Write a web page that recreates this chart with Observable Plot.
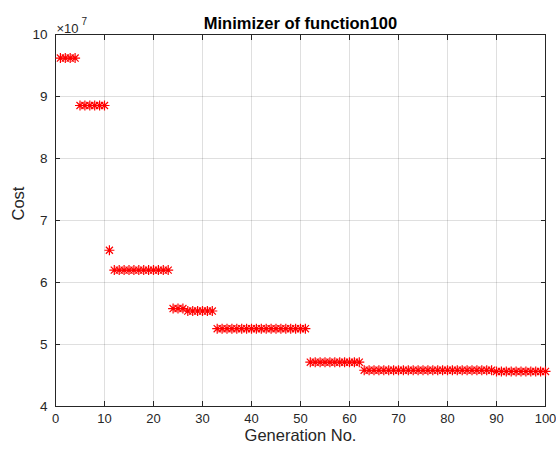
<!DOCTYPE html>
<html><head><meta charset="utf-8">
<script src="https://cdn.jsdelivr.net/npm/d3@7"></script>
<script src="https://cdn.jsdelivr.net/npm/@observablehq/plot@0.6"></script>
<style>
html,body{margin:0;padding:0;background:#fff;}
#chart{width:556px;height:450px;}
</style></head><body><div id="chart"></div>
<script>
// ---- data ----
const generation = [
  1,2,3,4,5,6,7,8,9,10,
  11,12,13,14,15,16,17,18,19,20,
  21,22,23,24,25,26,27,28,29,30,
  31,32,33,34,35,36,37,38,39,40,
  41,42,43,44,45,46,47,48,49,50,
  51,52,53,54,55,56,57,58,59,60,
  61,62,63,64,65,66,67,68,69,70,
  71,72,73,74,75,76,77,78,79,80,
  81,82,83,84,85,86,87,88,89,90,
  91,92,93,94,95,96,97,98,99,100
];
const cost = [
  9.62e7,9.62e7,9.62e7,9.62e7,8.855e7,8.855e7,8.855e7,8.855e7,8.855e7,8.855e7,
  6.52e7,6.20e7,6.20e7,6.20e7,6.20e7,6.20e7,6.20e7,6.20e7,6.20e7,6.20e7,
  6.20e7,6.20e7,6.20e7,5.58e7,5.58e7,5.58e7,5.54e7,5.54e7,5.54e7,5.54e7,
  5.54e7,5.54e7,5.255e7,5.255e7,5.255e7,5.255e7,5.255e7,5.255e7,5.255e7,5.255e7,
  5.255e7,5.255e7,5.255e7,5.255e7,5.255e7,5.255e7,5.255e7,5.255e7,5.255e7,5.255e7,
  5.255e7,4.715e7,4.715e7,4.715e7,4.715e7,4.715e7,4.715e7,4.715e7,4.715e7,4.715e7,
  4.715e7,4.715e7,4.585e7,4.585e7,4.585e7,4.585e7,4.585e7,4.585e7,4.585e7,4.585e7,
  4.585e7,4.585e7,4.585e7,4.585e7,4.585e7,4.585e7,4.585e7,4.585e7,4.585e7,4.585e7,
  4.585e7,4.585e7,4.585e7,4.585e7,4.585e7,4.585e7,4.585e7,4.585e7,4.585e7,4.565e7,
  4.565e7,4.565e7,4.565e7,4.565e7,4.565e7,4.565e7,4.565e7,4.565e7,4.565e7,4.565e7
];
const xTicks = [0,10,20,30,40,50,60,70,80,90,100];
const yTicks = [4e7,5e7,6e7,7e7,8e7,9e7,10e7];
const xDomain = [0,100];
const yDomain = [4e7,10e7];
const titleText = "Minimizer of function100";
const xLabelText = "Generation No.";
const yLabelText = "Cost";
const exponentBase = "×10";
const exponentPower = "7";
const yScaleFactor = 1e7;

// ---- drawing ----
const ink = "#262626";
const markerRed = "#ff0000";
const asterisk = {
  draw(ctx, size) {
    const r = Math.sqrt(size / Math.PI);
    const d = r * Math.SQRT1_2;
    ctx.moveTo(-r, 0); ctx.lineTo(r, 0);
    ctx.moveTo(0, -r); ctx.lineTo(0, r);
    ctx.moveTo(-d, -d); ctx.lineTo(d, d);
    ctx.moveTo(-d, d); ctx.lineTo(d, -d);
  }
};
const data = generation.map((g, i) => ({generation: g, cost: cost[i]}));
const blank = () => "";

const chart = Plot.plot({
  width: 556,
  height: 450,
  marginLeft: 55,
  marginRight: 11,
  marginTop: 34,
  marginBottom: 44,
  style: {fontFamily: "'Liberation Sans', Arial, Helvetica, sans-serif", fontSize: "13px", color: ink, background: "#fff", overflow: "visible"},
  x: {domain: xDomain, label: null},
  y: {domain: yDomain, label: null},
  marks: [
    Plot.gridX(xTicks, {stroke: ink, strokeOpacity: 0.15, strokeWidth: 1}),
    Plot.gridY(yTicks, {stroke: ink, strokeOpacity: 0.15, strokeWidth: 1}),
    Plot.frame({stroke: ink, strokeWidth: 1}),
    // inward ticks on all four sides
    Plot.axisX(xTicks, {anchor: "bottom", tickSize: -5, tickFormat: blank, label: null, stroke: ink}),
    Plot.axisX(xTicks, {anchor: "top", tickSize: -5, tickFormat: blank, label: null, stroke: ink}),
    Plot.axisY(yTicks, {anchor: "left", tickSize: -5, tickFormat: blank, label: null, stroke: ink}),
    Plot.axisY(yTicks, {anchor: "right", tickSize: -5, tickFormat: blank, label: null, stroke: ink}),
    // tick labels
    Plot.axisX(xTicks, {anchor: "bottom", tickSize: 0, tickPadding: 7, label: null, fontSize: 13, fill: ink}),
    Plot.axisY(yTicks, {anchor: "left", tickSize: 0, tickPadding: 8, label: null, fontSize: 13.5, fill: ink, tickFormat: d => d / yScaleFactor}),
    // data markers on top
    Plot.dot(data, {x: "generation", y: "cost", symbol: asterisk, r: 5, stroke: markerRed, fill: "none", strokeWidth: 1.2}),
    // exponent
    Plot.text([exponentBase], {frameAnchor: "top-left", textAnchor: "start", dx: 1, dy: -11, fontSize: 13, fill: ink}),
    Plot.text([exponentPower], {frameAnchor: "top-left", textAnchor: "start", dx: 26, dy: -17, fontSize: 10, fill: ink}),
    // title and axis labels
    Plot.text([titleText], {frameAnchor: "top", dy: -17, fontSize: 16.5, fontWeight: "bold", fill: "#000"}),
    Plot.text([xLabelText], {frameAnchor: "bottom", dy: 34, fontSize: 16.5, fill: ink}),
    Plot.text([yLabelText], {frameAnchor: "left", dx: -37, rotate: -90, fontSize: 16.5, fill: ink})
  ]
});
document.getElementById("chart").appendChild(chart);
</script>
</body></html>
